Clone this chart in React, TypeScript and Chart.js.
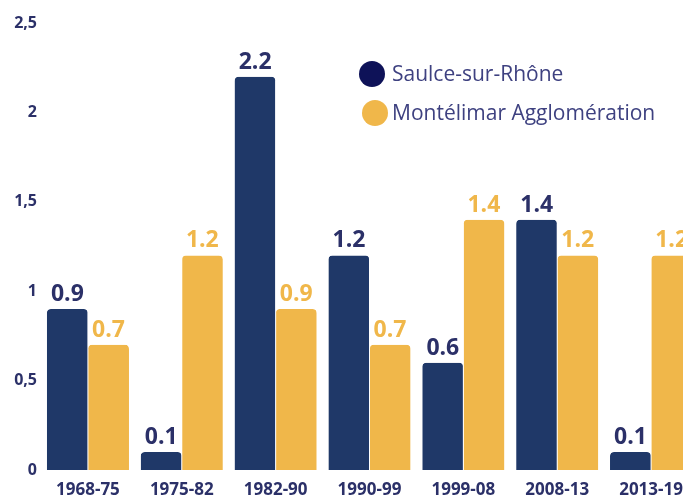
import React, { useEffect, useRef } from "react";
import { Chart, registerables } from "chart.js";

Chart.register(...registerables);

const categories = ["1968-75", "1975-82", "1982-90", "1990-99", "1999-08", "2008-13", "2013-19"];
const saulce = [0.9, 0.1, 2.2, 1.2, 0.6, 1.4, 0.1];
const montelimar = [0.7, 1.2, 0.9, 0.7, 1.4, 1.2, 1.2];
const seriesNames = ["Saulce-sur-Rhône", "Montélimar Agglomération"];
const yTicks = [0, 0.5, 1, 1.5, 2, 2.5];

const BLUE = "#1f3868";
const YELLOW = "#f0b74a";
const LEGEND_BLUE = "#0e1258";
const TEXT = "#2b3068";
const FONT = "'Open Sans', Lato, sans-serif";

const valueLabels = {
  id: "valueLabels",
  afterDatasetsDraw(chart: any) {
    const ctx = chart.ctx;
    ctx.save();
    ctx.font = `bold 23px ${FONT}`;
    ctx.textAlign = "center";
    ctx.textBaseline = "alphabetic";
    chart.data.datasets.forEach((ds: any, di: number) => {
      const meta = chart.getDatasetMeta(di);
      ctx.fillStyle = di === 0 ? TEXT : YELLOW;
      meta.data.forEach((bar: any, i: number) => {
        ctx.fillText(Number(ds.data[i]).toFixed(1), bar.x, bar.y - 8);
      });
    });
    ctx.restore();
  },
};

const customLegend = {
  id: "customLegend",
  afterDraw(chart: any) {
    const ctx = chart.ctx;
    const items = [
      { name: seriesNames[0], color: LEGEND_BLUE, cx: 364, cy: 66 },
      { name: seriesNames[1], color: YELLOW, cx: 367, cy: 105 },
    ];
    ctx.save();
    ctx.font = `21px ${FONT}`;
    ctx.textBaseline = "middle";
    ctx.textAlign = "left";
    items.forEach((it) => {
      ctx.beginPath();
      ctx.arc(it.cx, it.cy, 13, 0, Math.PI * 2);
      ctx.fillStyle = it.color;
      ctx.fill();
      ctx.fillStyle = "#3e4180";
      ctx.fillText(it.name, 384, it.cy + 1);
    });
    ctx.restore();
  },
};

export default function App() {
  const ref = useRef<HTMLCanvasElement>(null);
  useEffect(() => {
    if (!ref.current) return;
    const chart = new Chart(ref.current, {
      type: "bar",
      data: {
        labels: categories,
        datasets: [
          {
            label: seriesNames[0],
            data: saulce,
            backgroundColor: BLUE,
            borderColor: "#ffffff",
            borderWidth: { left: 0, right: 0.5, top: 0, bottom: 0 } as any,
            borderRadius: { topLeft: 4, topRight: 4, bottomLeft: 0, bottomRight: 0 },
            borderSkipped: "bottom",
            categoryPercentage: 0.875,
            barPercentage: 1,
          },
          {
            label: seriesNames[1],
            data: montelimar,
            backgroundColor: YELLOW,
            borderColor: "#ffffff",
            borderWidth: { left: 0.5, right: 0, top: 0, bottom: 0 } as any,
            borderRadius: { topLeft: 4, topRight: 4, bottomLeft: 0, bottomRight: 0 },
            borderSkipped: "bottom",
            categoryPercentage: 0.875,
            barPercentage: 1,
          },
        ],
      },
      options: {
        animation: false,
        responsive: false,
        maintainAspectRatio: false,
        layout: { padding: { top: 15, right: 0, left: 0, bottom: 0 } },
        plugins: {
          legend: { display: false },
          tooltip: { enabled: false },
        },
        scales: {
          x: {
            grid: { display: false, drawTicks: false },
            border: { display: false },
            ticks: {
              color: TEXT,
              font: { family: FONT, size: 17, weight: "bold" },
              padding: 10,
              maxRotation: 0,
              autoSkip: false,
            },
            afterFit(scale: any) {
              scale.height = 30;
            },
          },
          y: {
            min: 0,
            max: 2.5,
            grid: { display: false, drawTicks: false },
            border: { display: false },
            afterBuildTicks(scale: any) {
              scale.ticks = yTicks.map((v) => ({ value: v }));
            },
            ticks: {
              color: TEXT,
              font: { family: FONT, size: 16, weight: "bold" },
              padding: 4,
              callback: (v: any) => String(v).replace(".", ","),
            },
            afterFit(scale: any) {
              scale.width = 33;
            },
          },
        },
      },
      plugins: [valueLabels, customLegend],
    });
    return () => chart.destroy();
  }, []);
  return (
    <div style={{ width: 690, height: 492, overflow: "hidden" }}>
      <canvas ref={ref} width={690} height={492} style={{ display: "block" }} />
    </div>
  );
}
